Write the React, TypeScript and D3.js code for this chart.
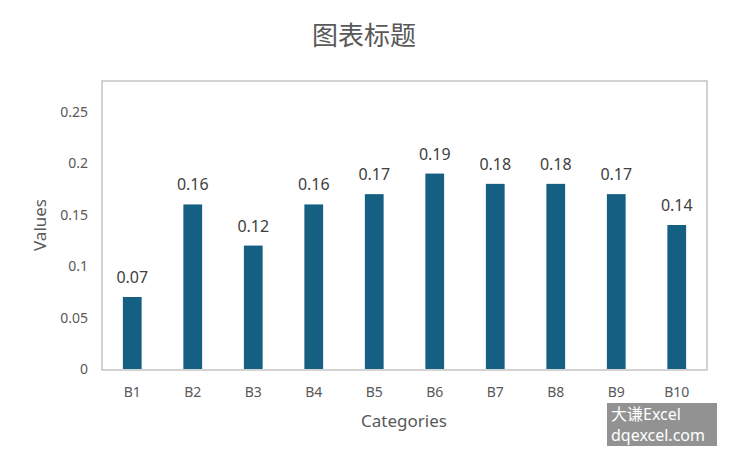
import React from "react";
import * as d3 from "d3";

const categories = ["B1", "B2", "B3", "B4", "B5", "B6", "B7", "B8", "B9", "B10"];
const values = [0.07, 0.16, 0.12, 0.16, 0.17, 0.19, 0.18, 0.18, 0.17, 0.14];
const yTicks = [0, 0.05, 0.1, 0.15, 0.2, 0.25];
const yTickLabels = ["0", "0.05", "0.1", "0.15", "0.2", "0.25"];
const title = "图表标题";
const xTitle = "Categories";
const yTitle = "Values";

const W = 729;
const H = 458;
const plot = { left: 102, right: 707, top: 81, bottom: 369 };
const font = "'Noto Sans', 'Noto Sans CJK SC', sans-serif";

export default function App() {
  const x = d3
    .scaleBand<string>()
    .domain(categories)
    .range([plot.left, plot.right])
    .paddingInner(0.69)
    .paddingOuter(0.345);
  const y = d3.scaleLinear().domain([0, 0.28]).range([plot.bottom, plot.top]);

  return (
    <svg
      width={W}
      height={H}
      style={{ position: "absolute", left: 0, top: 0, background: "#fff" }}
    >
      <rect x={0} y={0} width={W} height={H} fill="#fff" />
      <text
        x={364}
        y={45}
        textAnchor="middle"
        fontFamily="'Noto Sans CJK SC', sans-serif"
        fontSize={26}
        fill="#595959"
      >
        {title}
      </text>
      {categories.map((c, i) => (
        <rect
          key={c}
          x={x(c)}
          y={y(values[i])}
          width={x.bandwidth()}
          height={y(0) - y(values[i])}
          fill="#156082"
        />
      ))}
      <rect
        x={plot.left}
        y={plot.top}
        width={plot.right - plot.left}
        height={plot.bottom - plot.top + 1}
        fill="none"
        stroke="#C4C4C4"
        strokeWidth={1.5}
      />
      {categories.map((c, i) => (
        <text
          key={"l" + c}
          x={(x(c) as number) + x.bandwidth() / 2}
          y={y(values[i]) - 14}
          textAnchor="middle"
          fontFamily={font}
          fontSize={16}
          fill="#404040"
        >
          {values[i].toFixed(2)}
        </text>
      ))}
      {yTicks.map((t, i) => (
        <text
          key={"y" + t}
          x={88}
          y={y(t) + 5}
          textAnchor="end"
          fontFamily={font}
          fontSize={14}
          fill="#595959"
        >
          {yTickLabels[i]}
        </text>
      ))}
      {categories.map((c) => (
        <text
          key={"x" + c}
          x={(x(c) as number) + x.bandwidth() / 2}
          y={397}
          textAnchor="middle"
          fontFamily={font}
          fontSize={14}
          fill="#595959"
        >
          {c}
        </text>
      ))}
      <text
        x={404}
        y={427}
        textAnchor="middle"
        fontFamily={font}
        fontSize={17}
        fill="#595959"
      >
        {xTitle}
      </text>
      <text
        transform={`translate(46, 225) rotate(-90)`}
        textAnchor="middle"
        fontFamily={font}
        fontSize={17}
        fill="#595959"
      >
        {yTitle}
      </text>
      <rect x={607} y={403} width={110} height={43} fill="#8C8C8C" opacity={0.95} />
      <text x={611} y={420} fontFamily={font} fontSize={16} fill="#fff">
        大谦Excel
      </text>
      <text x={611} y={441} fontFamily={font} fontSize={16} fill="#fff">
        dqexcel.com
      </text>
    </svg>
  );
}
